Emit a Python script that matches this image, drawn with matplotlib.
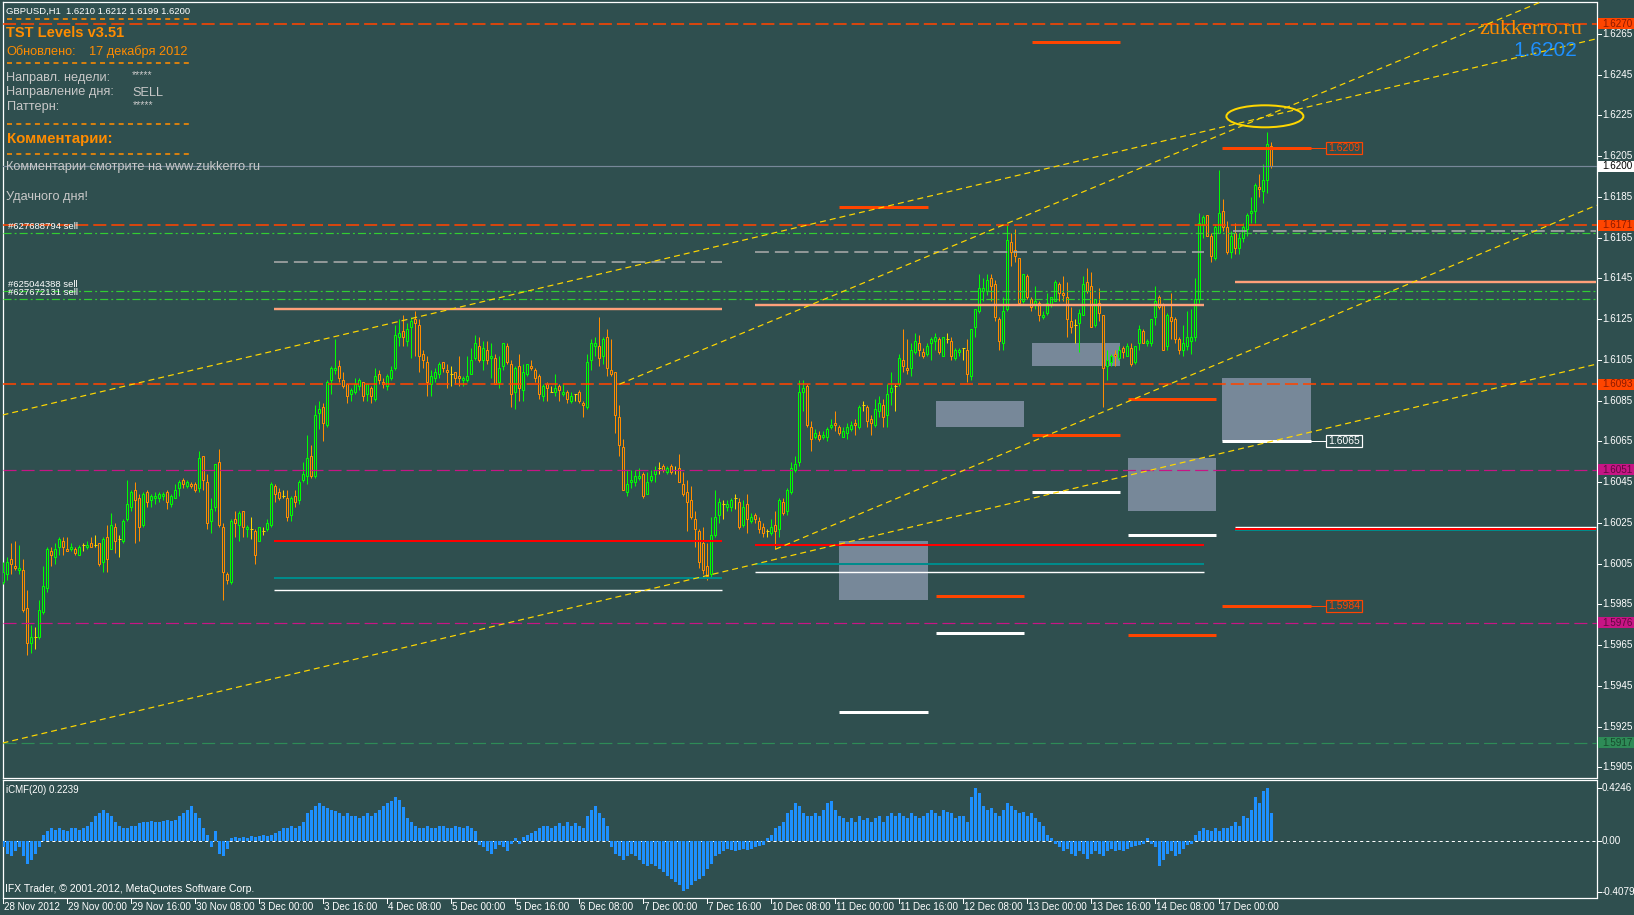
import numpy as np
import matplotlib
matplotlib.use('Agg')
import matplotlib.pyplot as plt
import matplotlib.transforms as mtransforms
from matplotlib.patches import Rectangle, Ellipse
from matplotlib.lines import Line2D

plt.rcParams['lines.scale_dashes'] = False

W, H = 1634, 915
BG = '#2F4F4F'
BULL, BEAR, DOJI = '#00FF00', '#FF8C00', '#FFD700'
ORANGE = '#FF8C00'
SILVER = '#C8C8C8'
SANS = 'Liberation Sans'
AXF = 7.1   # axis label font size

# ---- GBPUSD H1 bars ----
opens = [
    1.5996, 1.6000, 1.6007, 1.6004, 1.6002, 1.6002, 1.5983, 1.5966, 1.5969, 1.5969,
    1.5981, 1.5993, 1.6011, 1.6008, 1.6013, 1.6016, 1.6012, 1.6012, 1.6012, 1.6009,
    1.6014, 1.6013, 1.6015, 1.6014, 1.6015, 1.6006, 1.6018, 1.6012, 1.6023, 1.6017,
    1.6016, 1.6027, 1.6033, 1.6041, 1.6037, 1.6024, 1.6040, 1.6036, 1.6037, 1.6037,
    1.6038, 1.6040, 1.6034, 1.6037, 1.6042, 1.6046, 1.6043, 1.6044, 1.6044, 1.6042,
    1.6058, 1.6045, 1.6026, 1.6033, 1.6055, 1.6023, 1.6000, 1.5996, 1.6027, 1.6024,
    1.6031, 1.6022, 1.6022, 1.6021, 1.6016, 1.6021, 1.6022, 1.6024, 1.6043, 1.6040,
    1.6038, 1.6037, 1.6029, 1.6038, 1.6036, 1.6046, 1.6048, 1.6058, 1.6048, 1.6079,
    1.6082, 1.6073, 1.6095, 1.6100, 1.6102, 1.6095, 1.6093, 1.6088, 1.6089, 1.6092,
    1.6094, 1.6088, 1.6091, 1.6086, 1.6098, 1.6094, 1.6092, 1.6096, 1.6101, 1.6116,
    1.6119, 1.6114, 1.6121, 1.6125, 1.6122, 1.6108, 1.6104, 1.6093, 1.6096, 1.6098,
    1.6104, 1.6100, 1.6098, 1.6099, 1.6097, 1.6095, 1.6095, 1.6098, 1.6106, 1.6112,
    1.6105, 1.6110, 1.6106, 1.6106, 1.6094, 1.6102, 1.6112, 1.6103, 1.6089, 1.6102,
    1.6090, 1.6098, 1.6102, 1.6100, 1.6097, 1.6087, 1.6093, 1.6089, 1.6089, 1.6092,
    1.6088, 1.6089, 1.6085, 1.6088, 1.6089, 1.6084, 1.6082, 1.6105, 1.6112, 1.6112,
    1.6107, 1.6116, 1.6100, 1.6099, 1.6077, 1.6062, 1.6040, 1.6045, 1.6045, 1.6047,
    1.6049, 1.6039, 1.6046, 1.6049, 1.6052, 1.6053, 1.6050, 1.6053, 1.6051, 1.6052,
    1.6044, 1.6040, 1.6036, 1.6027, 1.6021, 1.6015, 1.6004, 1.6000, 1.6019, 1.6029,
    1.6034, 1.6033, 1.6033, 1.6037, 1.6035, 1.6024, 1.6034, 1.6026, 1.6029, 1.6026,
    1.6023, 1.6021, 1.6020, 1.6024, 1.6022, 1.6035, 1.6031, 1.6040, 1.6051, 1.6055,
    1.6089, 1.6092, 1.6072, 1.6067, 1.6068, 1.6067, 1.6067, 1.6072, 1.6074, 1.6072,
    1.6067, 1.6069, 1.6071, 1.6074, 1.6072, 1.6083, 1.6082, 1.6076, 1.6073, 1.6080,
    1.6083, 1.6078, 1.6089, 1.6092, 1.6093, 1.6105, 1.6101, 1.6101, 1.6109, 1.6113,
    1.6109, 1.6108, 1.6113, 1.6114, 1.6115, 1.6107, 1.6115, 1.6114, 1.6106, 1.6109,
    1.6111, 1.6110, 1.6097, 1.6121, 1.6129, 1.6139, 1.6139, 1.6145, 1.6142, 1.6125,
    1.6113, 1.6130, 1.6163, 1.6159, 1.6155, 1.6134, 1.6146, 1.6135, 1.6132, 1.6133,
    1.6126, 1.6128, 1.6132, 1.6134, 1.6142, 1.6138, 1.6136, 1.6124, 1.6122, 1.6123,
    1.6127, 1.6143, 1.6141, 1.6122, 1.6133, 1.6127, 1.6102, 1.6104, 1.6108, 1.6106,
    1.6111, 1.6107, 1.6111, 1.6104, 1.6113, 1.6119, 1.6113, 1.6113, 1.6126, 1.6136,
    1.6132, 1.6112, 1.6126, 1.6125, 1.6115, 1.6110, 1.6112, 1.6114, 1.6116, 1.6135,
    1.6171, 1.6176, 1.6166, 1.6155, 1.6167, 1.6178, 1.6170, 1.6158, 1.6167, 1.6160,
    1.6165, 1.6169, 1.6177, 1.6178, 1.6190, 1.6188, 1.6193, 1.6210,
]
highs = [
    1.6006, 1.6008, 1.6015, 1.6016, 1.6014, 1.6007, 1.5992, 1.5975, 1.5974, 1.5987,
    1.6004, 1.6013, 1.6013, 1.6015, 1.6018, 1.6018, 1.6018, 1.6015, 1.6013, 1.6014,
    1.6015, 1.6016, 1.6018, 1.6019, 1.6015, 1.6018, 1.6024, 1.6030, 1.6025, 1.6019,
    1.6027, 1.6046, 1.6041, 1.6045, 1.6039, 1.6040, 1.6041, 1.6039, 1.6040, 1.6040,
    1.6040, 1.6041, 1.6039, 1.6044, 1.6046, 1.6047, 1.6046, 1.6045, 1.6045, 1.6060,
    1.6058, 1.6049, 1.6037, 1.6054, 1.6061, 1.6025, 1.6001, 1.6027, 1.6031, 1.6031,
    1.6031, 1.6024, 1.6028, 1.6022, 1.6023, 1.6023, 1.6027, 1.6045, 1.6044, 1.6042,
    1.6041, 1.6041, 1.6038, 1.6041, 1.6046, 1.6055, 1.6068, 1.6063, 1.6083, 1.6085,
    1.6084, 1.6095, 1.6102, 1.6115, 1.6105, 1.6099, 1.6093, 1.6091, 1.6096, 1.6096,
    1.6094, 1.6093, 1.6092, 1.6101, 1.6100, 1.6096, 1.6098, 1.6102, 1.6122, 1.6125,
    1.6127, 1.6123, 1.6126, 1.6129, 1.6125, 1.6110, 1.6107, 1.6100, 1.6101, 1.6104,
    1.6104, 1.6103, 1.6102, 1.6099, 1.6107, 1.6097, 1.6107, 1.6111, 1.6117, 1.6116,
    1.6114, 1.6114, 1.6113, 1.6108, 1.6107, 1.6113, 1.6113, 1.6105, 1.6102, 1.6108,
    1.6103, 1.6103, 1.6105, 1.6101, 1.6098, 1.6093, 1.6094, 1.6092, 1.6098, 1.6093,
    1.6093, 1.6090, 1.6089, 1.6088, 1.6090, 1.6085, 1.6108, 1.6115, 1.6116, 1.6126,
    1.6116, 1.6120, 1.6115, 1.6099, 1.6083, 1.6066, 1.6051, 1.6051, 1.6051, 1.6052,
    1.6050, 1.6050, 1.6051, 1.6053, 1.6055, 1.6054, 1.6053, 1.6054, 1.6053, 1.6059,
    1.6050, 1.6046, 1.6043, 1.6031, 1.6022, 1.6023, 1.6015, 1.6028, 1.6041, 1.6037,
    1.6036, 1.6036, 1.6037, 1.6039, 1.6037, 1.6036, 1.6039, 1.6030, 1.6030, 1.6028,
    1.6025, 1.6022, 1.6027, 1.6031, 1.6037, 1.6037, 1.6042, 1.6055, 1.6058, 1.6095,
    1.6095, 1.6093, 1.6075, 1.6071, 1.6070, 1.6070, 1.6072, 1.6076, 1.6080, 1.6073,
    1.6072, 1.6074, 1.6075, 1.6076, 1.6083, 1.6085, 1.6083, 1.6078, 1.6086, 1.6087,
    1.6086, 1.6093, 1.6099, 1.6093, 1.6108, 1.6120, 1.6115, 1.6113, 1.6118, 1.6117,
    1.6111, 1.6113, 1.6116, 1.6118, 1.6116, 1.6116, 1.6118, 1.6116, 1.6111, 1.6111,
    1.6111, 1.6115, 1.6120, 1.6130, 1.6147, 1.6145, 1.6147, 1.6147, 1.6144, 1.6126,
    1.6136, 1.6171, 1.6167, 1.6169, 1.6155, 1.6147, 1.6147, 1.6136, 1.6141, 1.6134,
    1.6129, 1.6138, 1.6136, 1.6144, 1.6143, 1.6146, 1.6143, 1.6131, 1.6125, 1.6130,
    1.6146, 1.6150, 1.6148, 1.6135, 1.6140, 1.6127, 1.6110, 1.6108, 1.6110, 1.6112,
    1.6112, 1.6113, 1.6113, 1.6112, 1.6122, 1.6120, 1.6115, 1.6125, 1.6141, 1.6137,
    1.6133, 1.6128, 1.6138, 1.6126, 1.6116, 1.6122, 1.6129, 1.6130, 1.6145, 1.6177,
    1.6176, 1.6176, 1.6167, 1.6171, 1.6198, 1.6184, 1.6173, 1.6168, 1.6172, 1.6167,
    1.6172, 1.6177, 1.6185, 1.6192, 1.6196, 1.6201, 1.6217, 1.6212,
]
lows = [
    1.5995, 1.5997, 1.6000, 1.6002, 1.6000, 1.5981, 1.5960, 1.5961, 1.5963, 1.5968,
    1.5980, 1.5991, 1.6004, 1.6005, 1.6009, 1.6009, 1.6011, 1.6011, 1.6009, 1.6009,
    1.6011, 1.6012, 1.6013, 1.6013, 1.6004, 1.6001, 1.6001, 1.6012, 1.6010, 1.6008,
    1.6015, 1.6026, 1.6031, 1.6015, 1.6016, 1.6023, 1.6033, 1.6033, 1.6034, 1.6035,
    1.6036, 1.6032, 1.6033, 1.6037, 1.6038, 1.6042, 1.6042, 1.6042, 1.6040, 1.6040,
    1.6041, 1.6022, 1.6020, 1.6031, 1.6023, 1.5987, 1.5995, 1.5995, 1.6018, 1.6016,
    1.6018, 1.6018, 1.6017, 1.6005, 1.6016, 1.6019, 1.6021, 1.6023, 1.6035, 1.6036,
    1.6037, 1.6026, 1.6026, 1.6033, 1.6034, 1.6045, 1.6044, 1.6047, 1.6047, 1.6071,
    1.6065, 1.6072, 1.6088, 1.6098, 1.6094, 1.6091, 1.6084, 1.6085, 1.6088, 1.6090,
    1.6085, 1.6085, 1.6084, 1.6085, 1.6093, 1.6091, 1.6090, 1.6095, 1.6100, 1.6112,
    1.6112, 1.6112, 1.6106, 1.6107, 1.6099, 1.6101, 1.6087, 1.6087, 1.6094, 1.6096,
    1.6099, 1.6091, 1.6092, 1.6093, 1.6092, 1.6092, 1.6094, 1.6098, 1.6105, 1.6104,
    1.6100, 1.6103, 1.6096, 1.6093, 1.6091, 1.6100, 1.6103, 1.6082, 1.6081, 1.6085,
    1.6085, 1.6097, 1.6100, 1.6094, 1.6086, 1.6085, 1.6085, 1.6089, 1.6087, 1.6085,
    1.6087, 1.6084, 1.6084, 1.6085, 1.6084, 1.6077, 1.6081, 1.6100, 1.6107, 1.6102,
    1.6103, 1.6097, 1.6097, 1.6069, 1.6058, 1.6041, 1.6038, 1.6042, 1.6043, 1.6046,
    1.6037, 1.6039, 1.6045, 1.6045, 1.6049, 1.6050, 1.6049, 1.6049, 1.6049, 1.6045,
    1.6038, 1.6021, 1.6027, 1.6013, 1.6003, 1.6000, 1.5997, 1.5998, 1.6018, 1.6025,
    1.6027, 1.6031, 1.6031, 1.6032, 1.6022, 1.6023, 1.6020, 1.6025, 1.6025, 1.6020,
    1.6018, 1.6018, 1.6019, 1.6012, 1.6018, 1.6029, 1.6029, 1.6039, 1.6050, 1.6053,
    1.6080, 1.6072, 1.6060, 1.6066, 1.6065, 1.6066, 1.6065, 1.6071, 1.6070, 1.6068,
    1.6067, 1.6066, 1.6070, 1.6068, 1.6071, 1.6080, 1.6072, 1.6068, 1.6072, 1.6077,
    1.6072, 1.6072, 1.6083, 1.6080, 1.6092, 1.6099, 1.6098, 1.6097, 1.6108, 1.6107,
    1.6106, 1.6107, 1.6105, 1.6110, 1.6108, 1.6107, 1.6113, 1.6105, 1.6105, 1.6107,
    1.6105, 1.6094, 1.6095, 1.6116, 1.6128, 1.6134, 1.6137, 1.6134, 1.6124, 1.6110,
    1.6110, 1.6129, 1.6151, 1.6153, 1.6132, 1.6133, 1.6135, 1.6129, 1.6130, 1.6124,
    1.6125, 1.6127, 1.6131, 1.6134, 1.6134, 1.6134, 1.6116, 1.6118, 1.6113, 1.6109,
    1.6127, 1.6138, 1.6121, 1.6121, 1.6124, 1.6082, 1.6095, 1.6102, 1.6102, 1.6105,
    1.6106, 1.6107, 1.6102, 1.6103, 1.6110, 1.6113, 1.6112, 1.6112, 1.6122, 1.6130,
    1.6110, 1.6110, 1.6115, 1.6113, 1.6108, 1.6107, 1.6110, 1.6108, 1.6114, 1.6133,
    1.6165, 1.6166, 1.6153, 1.6154, 1.6167, 1.6168, 1.6157, 1.6155, 1.6157, 1.6157,
    1.6163, 1.6166, 1.6172, 1.6172, 1.6185, 1.6182, 1.6187, 1.6199,
]
closes = [
    1.6001, 1.6006, 1.6005, 1.6003, 1.6003, 1.5982, 1.5966, 1.5969, 1.5969, 1.5982,
    1.5994, 1.6012, 1.6009, 1.6012, 1.6017, 1.6013, 1.6011, 1.6013, 1.6010, 1.6013,
    1.6014, 1.6014, 1.6013, 1.6014, 1.6005, 1.6017, 1.6007, 1.6024, 1.6016, 1.6017,
    1.6026, 1.6034, 1.6040, 1.6036, 1.6023, 1.6039, 1.6035, 1.6038, 1.6038, 1.6039,
    1.6039, 1.6035, 1.6038, 1.6041, 1.6045, 1.6044, 1.6045, 1.6043, 1.6041, 1.6057,
    1.6046, 1.6025, 1.6032, 1.6054, 1.6024, 1.6001, 1.5997, 1.6026, 1.6025, 1.6030,
    1.6023, 1.6023, 1.6022, 1.6009, 1.6023, 1.6021, 1.6025, 1.6044, 1.6039, 1.6037,
    1.6038, 1.6028, 1.6037, 1.6035, 1.6045, 1.6049, 1.6057, 1.6048, 1.6078, 1.6081,
    1.6074, 1.6094, 1.6101, 1.6101, 1.6096, 1.6092, 1.6087, 1.6090, 1.6093, 1.6095,
    1.6087, 1.6093, 1.6087, 1.6097, 1.6095, 1.6093, 1.6097, 1.6100, 1.6117, 1.6118,
    1.6116, 1.6120, 1.6124, 1.6123, 1.6107, 1.6105, 1.6094, 1.6097, 1.6099, 1.6103,
    1.6101, 1.6099, 1.6098, 1.6096, 1.6096, 1.6096, 1.6097, 1.6105, 1.6113, 1.6105,
    1.6111, 1.6105, 1.6107, 1.6093, 1.6101, 1.6113, 1.6104, 1.6088, 1.6101, 1.6091,
    1.6099, 1.6103, 1.6101, 1.6096, 1.6088, 1.6092, 1.6091, 1.6089, 1.6091, 1.6090,
    1.6089, 1.6086, 1.6087, 1.6088, 1.6085, 1.6083, 1.6104, 1.6113, 1.6113, 1.6106,
    1.6115, 1.6101, 1.6098, 1.6078, 1.6063, 1.6041, 1.6044, 1.6046, 1.6048, 1.6048,
    1.6038, 1.6045, 1.6048, 1.6051, 1.6052, 1.6051, 1.6052, 1.6050, 1.6051, 1.6045,
    1.6039, 1.6035, 1.6028, 1.6022, 1.6006, 1.6002, 1.5999, 1.6019, 1.6028, 1.6035,
    1.6034, 1.6034, 1.6036, 1.6037, 1.6023, 1.6033, 1.6027, 1.6028, 1.6027, 1.6022,
    1.6020, 1.6021, 1.6023, 1.6021, 1.6036, 1.6030, 1.6041, 1.6052, 1.6054, 1.6089,
    1.6091, 1.6073, 1.6066, 1.6069, 1.6066, 1.6068, 1.6071, 1.6073, 1.6073, 1.6069,
    1.6070, 1.6072, 1.6073, 1.6073, 1.6082, 1.6083, 1.6075, 1.6074, 1.6081, 1.6084,
    1.6077, 1.6088, 1.6091, 1.6092, 1.6106, 1.6102, 1.6100, 1.6110, 1.6114, 1.6110,
    1.6107, 1.6112, 1.6115, 1.6116, 1.6109, 1.6116, 1.6115, 1.6107, 1.6110, 1.6110,
    1.6111, 1.6098, 1.6120, 1.6130, 1.6140, 1.6140, 1.6144, 1.6141, 1.6126, 1.6114,
    1.6129, 1.6164, 1.6158, 1.6156, 1.6133, 1.6147, 1.6136, 1.6131, 1.6134, 1.6127,
    1.6127, 1.6133, 1.6136, 1.6143, 1.6138, 1.6137, 1.6125, 1.6121, 1.6122, 1.6128,
    1.6142, 1.6139, 1.6121, 1.6135, 1.6128, 1.6101, 1.6105, 1.6107, 1.6107, 1.6110,
    1.6109, 1.6112, 1.6103, 1.6112, 1.6120, 1.6113, 1.6114, 1.6125, 1.6134, 1.6131,
    1.6110, 1.6127, 1.6124, 1.6115, 1.6110, 1.6113, 1.6116, 1.6116, 1.6135, 1.6172,
    1.6175, 1.6166, 1.6156, 1.6170, 1.6177, 1.6170, 1.6158, 1.6166, 1.6160, 1.6165,
    1.6170, 1.6176, 1.6178, 1.6191, 1.6189, 1.6193, 1.6211, 1.6200,
]

# Chaikin money flow (20) histogram
cmf = [
    -0.05, -0.10, -0.12, -0.08, -0.05, -0.12, -0.18, -0.15, -0.10, -0.05,
    0.05, 0.08, 0.10, 0.09, 0.10, 0.09, 0.08, 0.10, 0.10, 0.09, 0.10,
    0.12, 0.15, 0.20, 0.22, 0.25, 0.22, 0.20,
    0.15, 0.12, 0.10, 0.10, 0.12, 0.12,
    0.14, 0.15, 0.15, 0.16, 0.15, 0.15, 0.16, 0.17, 0.16, 0.17,
    0.20, 0.22, 0.25, 0.28, 0.22, 0.18, 0.10,
    0.05, -0.05, 0.08, -0.10, -0.12, -0.06,
    0.02, 0.03, 0.02, 0.03, 0.02, 0.04, 0.03, 0.04, 0.05, 0.04, 0.05, 0.06,
    0.08, 0.10, 0.10, 0.12, 0.10, 0.12, 0.15,
    0.22, 0.25, 0.28, 0.30, 0.28,
    0.26, 0.25, 0.24, 0.22, 0.20, 0.22, 0.20,
    0.20, 0.18, 0.20, 0.22, 0.20, 0.22, 0.25, 0.28, 0.30,
    0.32, 0.35, 0.33, 0.27,
    0.18, 0.15, 0.12, 0.10, 0.10, 0.12, 0.10,
    0.10, 0.12, 0.12, 0.10, 0.10, 0.12, 0.11, 0.10, 0.12, 0.10, 0.08,
    -0.03, -0.05, -0.08, -0.10, -0.06, -0.03, -0.05, -0.08, -0.02,
    0.02, -0.02, 0.03, 0.05, 0.06,
    0.08, 0.10, 0.12, 0.12, 0.10, 0.12, 0.14, 0.12, 0.15, 0.12, 0.14, 0.12, 0.10, 0.20,
    0.25, 0.28, 0.22, 0.18, 0.12,
    -0.05, -0.10, -0.12, -0.15, -0.12, -0.10, -0.12,
    -0.15, -0.18, -0.20, -0.18, -0.20, -0.22, -0.25, -0.28,
    -0.30, -0.33, -0.35, -0.40, -0.38, -0.35,
    -0.32, -0.30, -0.28, -0.22, -0.18, -0.12,
    -0.10, -0.08, -0.06, -0.07, -0.08, -0.07, -0.06, -0.07, -0.06, -0.05,
    -0.04, -0.03, 0.02, 0.05,
    0.10, 0.12, 0.15, 0.22, 0.25, 0.30,
    0.28, 0.22, 0.20, 0.20, 0.22, 0.20, 0.25,
    0.30, 0.32, 0.25, 0.20, 0.18,
    0.15, 0.18, 0.15, 0.20, 0.17, 0.18, 0.15, 0.18, 0.20, 0.15, 0.20, 0.22,
    0.20, 0.22, 0.20, 0.18, 0.22, 0.20, 0.18, 0.20, 0.22, 0.25, 0.22, 0.20, 0.25, 0.23,
    0.22, 0.18, 0.20, 0.20,
    0.15, 0.35, 0.42, 0.38,
    0.28, 0.25, 0.26, 0.22, 0.20, 0.25, 0.30, 0.28,
    0.25, 0.22, 0.23, 0.20, 0.22, 0.18,
    0.15, 0.12, 0.05, 0.02,
    -0.02, -0.05, -0.08, -0.06, -0.10, -0.12, -0.08,
    -0.10, -0.14, -0.10, -0.08, -0.10, -0.12, -0.08, -0.06, -0.08, -0.07, -0.08,
    -0.06, -0.05, -0.04, -0.03, -0.02, 0.02, -0.02, -0.05, -0.20,
    -0.15, -0.10, -0.08, -0.12, -0.10, -0.06, -0.03, -0.02,
    0.05, 0.08, 0.10, 0.09, 0.08, 0.10, 0.08, 0.10, 0.10, 0.12,
    0.15, 0.12, 0.20, 0.18, 0.25, 0.35, 0.30, 0.40, 0.42, 0.2239,
]

assert len(opens) == len(highs) == len(lows) == len(closes) == len(cmf) == 318

# ---- levels and objects ----
price_ticks = [1.6265, 1.6245, 1.6225, 1.6205, 1.6185, 1.6165, 1.6145, 1.6125, 1.6105,
               1.6085, 1.6065, 1.6045, 1.6025, 1.6005, 1.5985, 1.5965, 1.5945, 1.5925, 1.5905]
time_bars = [0, 16, 32, 48, 64, 80, 96, 112, 128, 144, 160, 176, 192, 208, 224, 240, 256, 272, 288, 304]
time_labels = ['28 Nov 2012', '29 Nov 00:00', '29 Nov 16:00', '30 Nov 08:00', '3 Dec 00:00',
               '3 Dec 16:00', '4 Dec 08:00', '5 Dec 00:00', '5 Dec 16:00', '6 Dec 08:00',
               '7 Dec 00:00', '7 Dec 16:00', '10 Dec 08:00', '11 Dec 00:00', '11 Dec 16:00',
               '12 Dec 08:00', '13 Dec 00:00', '13 Dec 16:00', '14 Dec 08:00', '17 Dec 00:00']

dashed_levels = [1.6270, 1.6171, 1.6093, 1.6051, 1.5976, 1.5917]
dashed_kinds = ['res', 'res', 'res', 'mag', 'mag', 'sup']
bid_price = 1.6200
order_prices = [1.6167, 1.6139, 1.6135]
order_names = ['#627688794 sell', '#625044388 sell', '#627672131 sell']

# weekly blocks (bar ranges) with their pivot-type levels
week_start = [67.7, 187.9, 307.9]
week_end = [179.7, 300.2, 398.3]
grey_lvl = [1.6153, 1.6158, 1.6168]
salmon_lvl = [1.6130, 1.6132, 1.6143]
red_lvl = [1.6016, 1.6014, 1.60221]
teal_lvl = [1.5998, 1.6005, 1.60213]
white_lvl = [1.5992, 1.6001, 1.60228]
grey_start = [67.7, 187.9, 307.4]

# daily blocks
day_start = [208.9, 233.2, 257.2, 281.2, 304.7]
day_end = [231.2, 255.2, 279.2, 303.2, 326.9]
day_orange = [(2, 1.6261), (0, 1.6180), (4, 1.6209), (3, 1.6086), (2, 1.6068),
              (1, 1.5989), (4, 1.5984), (3, 1.5970)]
day_white = [(4, 1.6065), (2, 1.6040), (3, 1.6019), (1, 1.5971), (0, 1.5932)]
zone_top = [1.6016, 1.6085, 1.6113, 1.6057, 1.6096]
zone_bot = [1.5987, 1.6072, 1.6102, 1.6031, 1.6065]
tagged = [(1.6209, 'res'), (1.6065, 'white'), (1.5984, 'res')]

# trend lines: (bar, price) anchors; rays start at the first anchor
channel_lines = [((0, 1.6078), (300, 1.6217)), ((0, 1.5917), (300, 1.6057))]
ray_lines = [((154, 1.6093), (300, 1.62119)), ((193, 1.6012), (300, 1.6100))]
circle_center = (315.4, 1.62245)

# ---- figure ----
fig = plt.figure(figsize=(W / 100, H / 100), dpi=100, facecolor=BG)


def frect(x0, y0, x1, y1):
    return [x0 / W, 1 - y1 / H, (x1 - x0) / W, (y1 - y0) / H]


ax = fig.add_axes(frect(2.5, 2, 1596.5, 777.5))
ax2 = fig.add_axes(frect(2.5, 780, 1596.5, 898))
XMIN, XMAX = -0.2, 398.3
YMIN, YMAX = 1.59000, 1.62806
ax.set_xlim(XMIN, XMAX)
ax.set_ylim(YMIN, YMAX)
ax2.set_xlim(XMIN, XMAX)
ax2.set_ylim(-0.454, 0.486)
for a in (ax, ax2):
    a.set_facecolor(BG)
    a.set_xticks([])
    a.set_yticks([])
    for s in a.spines.values():
        s.set_color('white')
        s.set_linewidth(0.9)

PPX = (YMAX - YMIN) / 775.5       # price per pixel
PX = 0.72                          # points per pixel

x = np.arange(len(closes))
o = np.array(opens); h = np.array(highs); l = np.array(lows); c = np.array(closes)

# zones behind the candles
for k in range(5):
    ax.add_patch(Rectangle((day_start[k], zone_bot[k]), day_end[k] - day_start[k],
                           zone_top[k] - zone_bot[k], facecolor='#778899',
                           edgecolor='none', zorder=1))

# candles
cols = np.where(c > o, BULL, np.where(c < o, BEAR, DOJI))
ax.vlines(x, l, h, colors=cols, lw=PX, zorder=3)
body = c != o
ax.bar(x[body], np.abs(c - o)[body], bottom=np.minimum(o, c)[body], width=0.5,
       facecolor=BG, edgecolor=cols[body], linewidth=PX, zorder=4)
dj = ~body
ax.hlines(o[dj], x[dj] - 0.35, x[dj] + 0.35, colors=DOJI, lw=PX, zorder=4)

# horizontal levels
kind_col = {'res': '#FF4500', 'mag': '#C71585', 'sup': '#2E8B57', 'white': 'white'}
for p, k in zip(dashed_levels, dashed_kinds):
    ax.axhline(p, color=kind_col[k], lw=(1.6 if k == 'res' else 1.2) * PX,
               ls=(0, (9.4, 3.6)), zorder=6)
ax.axhline(bid_price, color='#778899', lw=1.2 * PX, zorder=6)
for p in order_prices:
    ax.axhline(p, color='#32CD32', lw=1.2 * PX, ls=(0, (5.8, 2.2, 1.4, 2.2)), zorder=6)

for k in range(3):
    ax.hlines(grey_lvl[k], grey_start[k], week_end[k], color='#A9A9A9', lw=1.6 * PX,
              linestyles=[(0, (10, 4.3))], zorder=6)
    ax.hlines(salmon_lvl[k], week_start[k], week_end[k], color='#FFA07A', lw=2.4 * PX, zorder=6)
    ax.hlines(teal_lvl[k], week_start[k], week_end[k], color='#008B8B', lw=2 * PX, zorder=6)
    ax.hlines(white_lvl[k], week_start[k], week_end[k], color='white', lw=1.4 * PX, zorder=6)
    ax.hlines(red_lvl[k], week_start[k], week_end[k], color='#FF0000', lw=2 * PX, zorder=6)

for d, p in day_orange:
    ax.hlines(p, day_start[d], day_end[d], color='#FF4500', lw=3 * PX, zorder=6)
for d, p in day_white:
    ax.hlines(p, day_start[d], day_end[d], color='white', lw=3 * PX, zorder=6)

# tag boxes next to today's levels
for p, k in tagged:
    col = kind_col[k]
    ax.plot([326.9, 330.7], [p, p], color=col, lw=PX, zorder=6, clip_on=False)
    ax.add_patch(Rectangle((330.7, p - 6 * PPX), 9, 12 * PPX, facecolor='none',
                           edgecolor=col, lw=1.2 * PX, zorder=6))
    ax.text(335.2, p, f'{p:.4f}', color=col, fontsize=AXF + 0.4, family=SANS,
            ha='center', va='center', zorder=7)

# trend lines
YEL = '#FFD700'
for (p0, p1) in channel_lines:
    ax.axline(p0, p1, color=YEL, lw=1.2 * PX, ls=(0, (4.3, 2.9)), zorder=6)
for (p0, p1) in ray_lines:
    slope = (p1[1] - p0[1]) / (p1[0] - p0[0])
    ax.plot([p0[0], XMAX], [p0[1], p0[1] + slope * (XMAX - p0[0])], color=YEL,
            lw=1.2 * PX, ls=(0, (4.3, 2.9)), zorder=6)
ax.add_patch(Ellipse(circle_center, 19.25, 22 * PPX, facecolor='none', edgecolor=YEL,
                     lw=2 * PX, zorder=7))

# right price scale
tr_r = mtransforms.blended_transform_factory(fig.transFigure, ax.transData)
for p in price_ticks:
    ax.plot([1596.5 / W, 1600.5 / W], [p, p], color='white', lw=PX, transform=tr_r, clip_on=False)
    ax.text(1602 / W, p, f'{p:.4f}', color='white', fontsize=AXF, family=SANS,
            va='center', ha='left', transform=tr_r, clip_on=False)

box_style = {'res': ('#FF4500', '#8B1A00'), 'mag': ('#C71585', '#5E0A3F'),
             'sup': ('#2E8B57', '#174A2D'), 'bid': ('white', 'black')}
box_prices = dashed_levels + [bid_price]
box_kinds = dashed_kinds + ['bid']
for p, k in zip(box_prices, box_kinds):
    fc, tc = box_style[k]
    ax.add_patch(Rectangle((1597.7 / W, p - 5.5 * PPX), 36.3 / W, 11 * PPX, facecolor=fc,
                           edgecolor='none', transform=tr_r, clip_on=False, zorder=8))
    ax.text(1602 / W, p, f'{p:.4f}', color=tc, fontsize=AXF, family=SANS, va='center',
            ha='left', transform=tr_r, clip_on=False, zorder=9)

# CMF panel
ax2.bar(x, cmf, width=0.62, color='#1E90FF', zorder=3)
ax2.axhline(0, color='white', lw=PX, ls=(0, (2.2, 2.2)), zorder=2)
tr_r2 = mtransforms.blended_transform_factory(fig.transFigure, ax2.transData)
for v, s in [(0.4246, '0.4246'), (0.0, '0.00'), (-0.4079, '-0.4079')]:
    ax2.plot([1596.5 / W, 1600.5 / W], [v, v], color='white', lw=PX, transform=tr_r2, clip_on=False)
    ax2.text(1602 / W, v, s, color='white', fontsize=AXF, family=SANS, va='center',
             ha='left', transform=tr_r2, clip_on=False)

# time axis
tr_t = mtransforms.blended_transform_factory(ax2.transData, fig.transFigure)
for b, s in zip(time_bars, time_labels):
    ax2.plot([b, b], [1 - 898 / H, 1 - 903 / H], color='white', lw=PX, transform=tr_t, clip_on=False)
    ax2.text(b + 0.1, 1 - 907 / H, s, color='white', fontsize=AXF, family=SANS,
             va='center', ha='left', transform=tr_t, clip_on=False)


def ptext(px, py, s, **kw):
    kw.setdefault('va', 'center')
    kw.setdefault('ha', 'left')
    fig.text(px / W, 1 - py / H, s, **kw)


def sep(py):
    fig.add_artist(Line2D([6.7 / W, 193 / W], [1 - py / H] * 2, transform=fig.transFigure,
                          color=ORANGE, lw=1.6 * PX, ls=(0, (3.6, 3.1))))


# header and info block
ptext(6, 11, 'GBPUSD,H1  1.6210 1.6212 1.6199 1.6200', color='white', fontsize=6.8, family=SANS)
for yy in (19, 63, 124, 154):
    sep(yy)
ptext(6.5, 33, 'TST Levels v3.51', color=ORANGE, fontsize=10.5, family=SANS, weight='bold')
ptext(6.5, 52, 'Обновлено:', color=ORANGE, fontsize=9.2, family=SANS)
ptext(89, 52, '17 декабря 2012', color=ORANGE, fontsize=9.2, family=SANS)
ptext(6.5, 77.5, 'Направл. недели:', color=SILVER, fontsize=9.2, family=SANS)
ptext(132, 75, '*****', color=SILVER, fontsize=7.5, family=SANS)
ptext(6.5, 92.5, 'Направление дня:', color=SILVER, fontsize=9.2, family=SANS)
ptext(132, 92.5, 'SELL', color=SILVER, fontsize=9.2, family=SANS)
ptext(6.5, 107, 'Паттерн:', color=SILVER, fontsize=9.2, family=SANS)
ptext(133, 105, '*****', color=SILVER, fontsize=7.5, family=SANS)
ptext(6.5, 139, 'Комментарии:', color=ORANGE, fontsize=10.8, family=SANS, weight='bold')
ptext(6.5, 167, 'Комментарии смотрите на www.zukkerro.ru', color=SILVER, fontsize=9.2, family=SANS)
ptext(6.5, 197, 'Удачного дня!', color=SILVER, fontsize=9.2, family=SANS)

for p, s in zip(order_prices, order_names):
    ax.text(1.2, p + 2 * PPX, s, color='white', fontsize=6.8, family=SANS,
            va='bottom', ha='left', zorder=9)

ptext(1531, 29, 'zukkerro.ru', color=ORANGE, fontsize=16, family='Liberation Serif', ha='center')
ptext(1545, 51, '1.6202', color='#1E90FF', fontsize=15, family=SANS, ha='center')

ptext(6, 790, 'iCMF(20) 0.2239', color='white', fontsize=7, family=SANS)
ptext(5, 889, 'IFX Trader, © 2001-2012, MetaQuotes Software Corp.', color='white',
      fontsize=7.5, family=SANS)

fig.savefig('out.png', dpi=100, facecolor=BG)
